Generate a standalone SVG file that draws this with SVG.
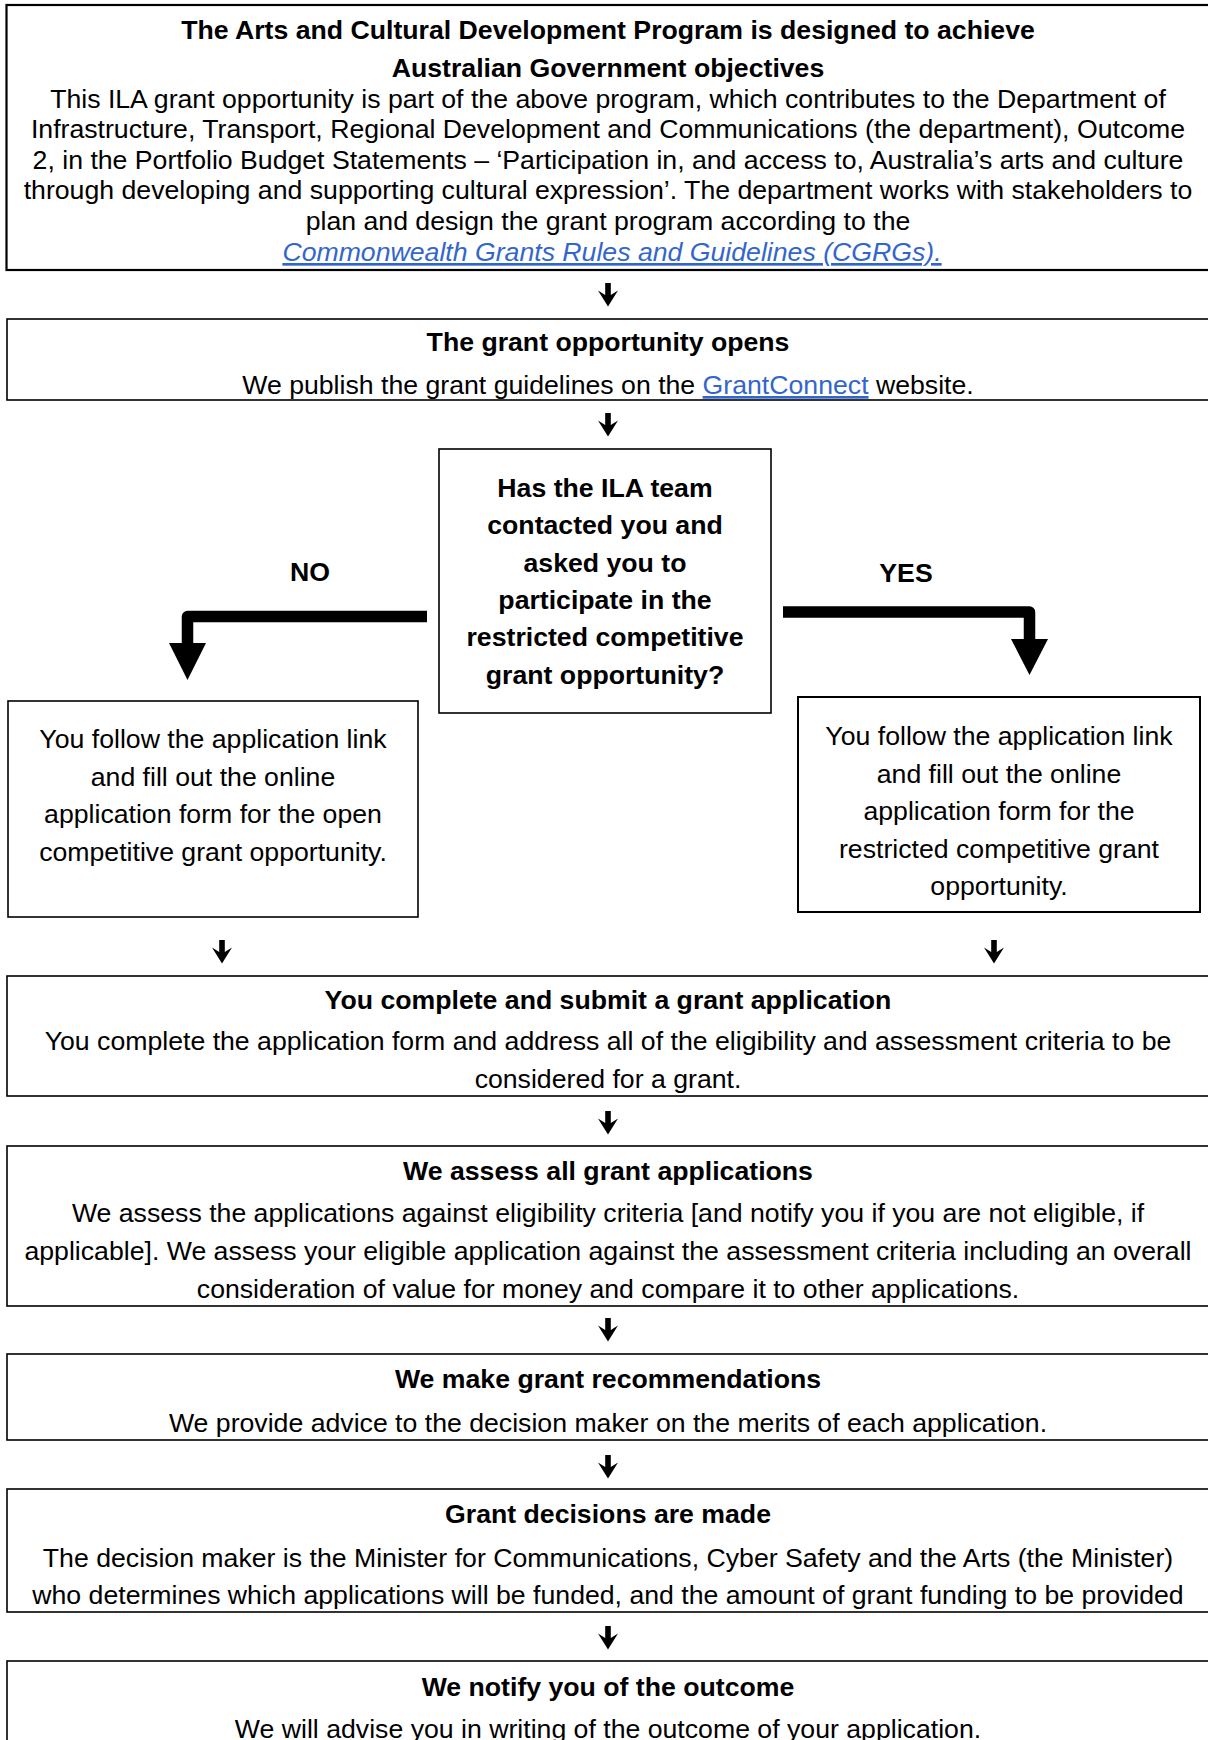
<svg xmlns="http://www.w3.org/2000/svg" width="1208" height="1740" viewBox="0 0 1208 1740">
<style>
  .box{fill:#fff;stroke:#000;stroke-width:1.6}
  .t{font-family:"Liberation Sans",Arial,sans-serif;font-size:26.67px;fill:#000;text-anchor:middle}
  .b{font-weight:bold}
  .link{fill:#3366cc;text-decoration:underline}
  .big{fill:none;stroke:#000;stroke-width:11.5;stroke-linejoin:round}
</style>
<defs>
  <path id="dn" d="M-2.8,0 H2.8 V12 L10,7.5 L0,23.5 L-10,7.5 L-2.8,12 Z" fill="#000"/>
</defs>
<rect width="1208" height="1740" fill="#fff"/>

<g id="connectors">
  <use href="#dn" x="608" y="283"/>
  <use href="#dn" x="608" y="413"/>
  <path class="big" d="M427,616.5 H187.5 V645"/>
  <polygon points="169,643 206,643 187.5,680" fill="#000"/>
  <path class="big" d="M783,612 H1029.5 V641"/>
  <polygon points="1011,639 1048,639 1029.5,675" fill="#000"/>
  <use href="#dn" x="222" y="940"/>
  <use href="#dn" x="994" y="940"/>
  <use href="#dn" x="608" y="1111"/>
  <use href="#dn" x="608" y="1318"/>
  <use href="#dn" x="608" y="1455"/>
  <use href="#dn" x="608" y="1626"/>
</g>

<g id="node-program">
  <rect class="box" x="6.5" y="5" width="1210" height="265" style="stroke-width:2.2"/>
  <text class="t b" x="608" y="39">The Arts and Cultural Development Program is designed to achieve</text>
  <text class="t b" x="608" y="76.5">Australian Government objectives</text>
  <text class="t" x="608" y="107.5">This ILA grant opportunity is part of the above program, which contributes to the Department of</text>
  <text class="t" x="608" y="138">Infrastructure, Transport, Regional Development and Communications (the department), Outcome</text>
  <text class="t" x="608" y="168.6">2, in the Portfolio Budget Statements – ‘Participation in, and access to, Australia’s arts and culture</text>
  <text class="t" x="608" y="199.2">through developing and supporting cultural expression’. The department works with stakeholders to</text>
  <text class="t" x="608" y="229.8">plan and design the grant program according to the</text>
  <text class="t link" x="612" y="261" font-style="italic">Commonwealth Grants Rules and Guidelines (CGRGs).</text>
</g>

<g id="node-opens">
  <rect class="box" x="7" y="319" width="1210" height="81"/>
  <text class="t b" x="608" y="351">The grant opportunity opens</text>
  <text class="t" x="608" y="394">We publish the grant guidelines on the <tspan class="link">GrantConnect</tspan> website.</text>
</g>

<g id="node-decision">
  <rect class="box" x="439" y="449" width="332" height="264"/>
  <text class="t b" x="605" y="496.5">Has the ILA team</text>
  <text class="t b" x="605" y="534">contacted you and</text>
  <text class="t b" x="605" y="571.5">asked you to</text>
  <text class="t b" x="605" y="608.5">participate in the</text>
  <text class="t b" x="605" y="646">restricted competitive</text>
  <text class="t b" x="605" y="683.5">grant opportunity?</text>
</g>

<g id="label-no"><text class="t b" x="310" y="581">NO</text></g>
<g id="label-yes"><text class="t b" x="906" y="582">YES</text></g>

<g id="node-open-form">
  <rect class="box" x="8" y="701" width="410" height="216"/>
  <text class="t" x="213" y="748">You follow the application link</text>
  <text class="t" x="213" y="785.5">and fill out the online</text>
  <text class="t" x="213" y="823">application form for the open</text>
  <text class="t" x="213" y="860.5">competitive grant opportunity.</text>
</g>

<g id="node-restricted-form">
  <rect class="box" x="798" y="697" width="402" height="215" style="stroke-width:2"/>
  <text class="t" x="999" y="745">You follow the application link</text>
  <text class="t" x="999" y="782.5">and fill out the online</text>
  <text class="t" x="999" y="820">application form for the</text>
  <text class="t" x="999" y="857.5">restricted competitive grant</text>
  <text class="t" x="999" y="895">opportunity.</text>
</g>

<g id="node-submit">
  <rect class="box" x="7" y="976" width="1210" height="120"/>
  <text class="t b" x="608" y="1008.5">You complete and submit a grant application</text>
  <text class="t" x="608" y="1050">You complete the application form and address all of the eligibility and assessment criteria to be</text>
  <text class="t" x="608" y="1088">considered for a grant.</text>
</g>

<g id="node-assess">
  <rect class="box" x="7" y="1146" width="1210" height="160"/>
  <text class="t b" x="608" y="1179.5">We assess all grant applications</text>
  <text class="t" x="608" y="1222">We assess the applications against eligibility criteria [and notify you if you are not eligible, if</text>
  <text class="t" x="608" y="1260">applicable]. We assess your eligible application against the assessment criteria including an overall</text>
  <text class="t" x="608" y="1298">consideration of value for money and compare it to other applications.</text>
</g>

<g id="node-recommend">
  <rect class="box" x="7" y="1354" width="1210" height="86"/>
  <text class="t b" x="608" y="1388">We make grant recommendations</text>
  <text class="t" x="608" y="1432">We provide advice to the decision maker on the merits of each application.</text>
</g>

<g id="node-decisions">
  <rect class="box" x="7" y="1489" width="1210" height="123"/>
  <text class="t b" x="608" y="1523">Grant decisions are made</text>
  <text class="t" x="608" y="1567">The decision maker is the Minister for Communications, Cyber Safety and the Arts (the Minister)</text>
  <text class="t" x="608" y="1604">who determines which applications will be funded, and the amount of grant funding to be provided</text>
</g>

<g id="node-notify">
  <rect class="box" x="7" y="1661" width="1210" height="120"/>
  <text class="t b" x="608" y="1696">We notify you of the outcome</text>
  <text class="t" x="608" y="1738">We will advise you in writing of the outcome of your application.</text>
</g>
</svg>
